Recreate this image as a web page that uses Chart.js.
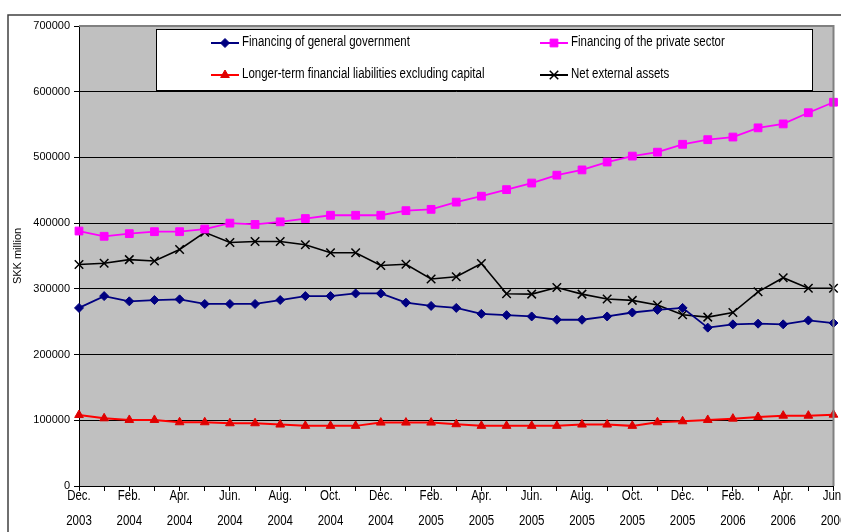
<!DOCTYPE html>
<html>
<head>
<meta charset="utf-8">
<script src="https://cdn.jsdelivr.net/npm/chart.js@4/dist/chart.umd.min.js"></script>
<style>
  html, body { margin: 0; padding: 0; background: #ffffff; }
  #wrap { position: relative; width: 841px; height: 532px; }
</style>
</head>
<body>
<div id="wrap"><canvas id="c" width="841" height="532"></canvas></div>
<script>
// Monthly observations, Dec. 2003 – Jun. 2006 (SKK million)
const categories = [
  "Dec. 2003", "Jan. 2004", "Feb. 2004", "Mar. 2004", "Apr. 2004", "May 2004", "Jun. 2004",
  "Jul. 2004", "Aug. 2004", "Sep. 2004", "Oct. 2004", "Nov. 2004", "Dec. 2004",
  "Jan. 2005", "Feb. 2005", "Mar. 2005", "Apr. 2005", "May 2005", "Jun. 2005",
  "Jul. 2005", "Aug. 2005", "Sep. 2005", "Oct. 2005", "Nov. 2005", "Dec. 2005",
  "Jan. 2006", "Feb. 2006", "Mar. 2006", "Apr. 2006", "May 2006", "Jun. 2006"
];

const generalGovernment = [
  271000, 289000, 281000, 283000, 284000, 277000, 277000, 277000, 283000, 289000,
  289000, 293000, 293000, 279000, 274000, 271000, 262000, 260000, 258000, 253000,
  253000, 258000, 264000, 268000, 271000, 241000, 246000, 247000, 246000, 252000, 248000
];

const privateSector = [
  388000, 380000, 384000, 387000, 387000, 391000, 400000, 398000, 402000, 407000,
  412000, 412000, 412000, 419000, 421000, 432000, 441000, 451000, 461000, 473000,
  481000, 493000, 502000, 508000, 520000, 527000, 531000, 545000, 551000, 568000, 584000
];

const longerTermLiabilities = [
  108000, 103000, 100500, 100500, 97000, 97000, 95500, 95500, 93500, 91500,
  91500, 91500, 96500, 96500, 96500, 94000, 91500, 91500, 91500, 91500,
  93500, 93500, 91500, 97000, 98500, 100500, 102500, 105000, 107000, 107000, 108500
];

const netExternalAssets = [
  337000, 339000, 344500, 342500, 360000, 386000, 370500, 372000, 372000, 367000,
  355000, 355000, 335500, 337500, 315000, 318500, 338500, 292500, 292000, 302000,
  292000, 284500, 282500, 275500, 260500, 257000, 264000, 295500, 317000, 301000, 301000
];

const yTicks = [0, 100000, 200000, 300000, 400000, 500000, 600000, 700000];

const seriesNames = [
  "Financing of general government",
  "Financing of the private sector",
  "Longer-term financial liabilities excluding capital",
  "Net external assets"
];

const REGULAR = '"Liberation Sans", Arial, sans-serif';
const NARROW_SCALE = 0.82; // horizontal squeeze giving a narrow face

// Text in a condensed style: a regular face squeezed horizontally
function narrowText(ctx, text, x, y, align, size) {
  ctx.save();
  ctx.translate(x, y);
  ctx.scale(NARROW_SCALE, 1);
  ctx.font = size + 'px ' + REGULAR;
  ctx.fillStyle = '#000000';
  ctx.textAlign = align;
  ctx.textBaseline = 'middle';
  ctx.fillText(text, 0, 0);
  ctx.restore();
}

// Grey plot background and outer frame
const framePlugin = {
  id: 'frame',
  beforeDraw(chart) {
    const { ctx, chartArea: a } = chart;
    ctx.save();
    ctx.fillStyle = '#c0c0c0';
    ctx.fillRect(a.left, a.top, a.right - a.left, a.bottom - a.top);
    ctx.strokeStyle = '#404040';
    ctx.lineWidth = 1.5;
    ctx.beginPath();
    ctx.moveTo(8, 540);
    ctx.lineTo(8, 15);
    ctx.lineTo(845, 15);
    ctx.stroke();
    ctx.restore();
  },
  afterDraw(chart) {
    const { ctx, chartArea: a } = chart;
    ctx.save();
    ctx.strokeStyle = '#808080';
    ctx.lineWidth = 2;
    ctx.beginPath();
    ctx.moveTo(a.left, a.top);
    ctx.lineTo(a.right, a.top);
    ctx.lineTo(a.right, a.bottom);
    ctx.stroke();
    ctx.restore();
  }
};

// Two-line month / year labels under every second category
const monthLabelsPlugin = {
  id: 'monthLabels',
  afterDraw(chart) {
    const { ctx } = chart;
    const xs = chart.scales.x;
    categories.forEach((c, i) => {
      if (i % 2 !== 0) return;
      const x = xs.getPixelForValue(i);
      const parts = c.split(' ');
      narrowText(ctx, parts[0], x, 496.5, 'center', 14);
      narrowText(ctx, parts[1], x, 521, 'center', 14);
    });
  }
};

function drawMarker(ctx, ds, x, y) {
  ctx.save();
  ctx.fillStyle = ds.pointBackgroundColor;
  ctx.strokeStyle = ds.pointBorderColor;
  ctx.lineWidth = ds.pointBorderWidth;
  const r = ds.pointRadius;
  ctx.beginPath();
  if (ds.pointStyle === 'rectRot') {
    ctx.moveTo(x, y - r); ctx.lineTo(x + r, y); ctx.lineTo(x, y + r); ctx.lineTo(x - r, y);
    ctx.closePath(); ctx.fill(); ctx.stroke();
  } else if (ds.pointStyle === 'rect') {
    const s = r * Math.SQRT1_2;
    ctx.rect(x - s, y - s, 2 * s, 2 * s); ctx.fill(); ctx.stroke();
  } else if (ds.pointStyle === 'triangle') {
    ctx.moveTo(x, y - r);
    ctx.lineTo(x + r * Math.sin(2 * Math.PI / 3), y - r * Math.cos(2 * Math.PI / 3));
    ctx.lineTo(x - r * Math.sin(2 * Math.PI / 3), y - r * Math.cos(2 * Math.PI / 3));
    ctx.closePath(); ctx.fill(); ctx.stroke();
  } else {
    const d = r * Math.SQRT1_2;
    ctx.moveTo(x - d, y - d); ctx.lineTo(x + d, y + d);
    ctx.moveTo(x + d, y - d); ctx.lineTo(x - d, y + d);
    ctx.stroke();
  }
  ctx.restore();
}

// Boxed legend in two columns
const legendBoxPlugin = {
  id: 'legendBox',
  afterDraw(chart) {
    const { ctx } = chart;
    ctx.save();
    ctx.fillStyle = '#ffffff';
    ctx.fillRect(156, 29, 656, 61);
    ctx.strokeStyle = '#000000';
    ctx.lineWidth = 1;
    ctx.strokeRect(156.5, 29.5, 656, 61);
    const slots = [
      { x: 211, y: 43 }, { x: 540, y: 43 },
      { x: 211, y: 75 }, { x: 540, y: 75 }
    ];
    chart.data.datasets.forEach((ds, i) => {
      const s = slots[i];
      ctx.strokeStyle = ds.borderColor;
      ctx.lineWidth = 2;
      ctx.beginPath();
      ctx.moveTo(s.x, s.y);
      ctx.lineTo(s.x + 28, s.y);
      ctx.stroke();
      drawMarker(ctx, ds, s.x + 14, s.y);
      narrowText(ctx, ds.label, s.x + 31, s.y - 1, 'left', 14);
    });
    ctx.restore();
  }
};

const data = {
  labels: categories,
  datasets: [
    {
      label: seriesNames[0], data: generalGovernment,
      borderColor: '#000080', backgroundColor: '#000080',
      pointStyle: 'rectRot', pointRadius: 4.5,
      pointBackgroundColor: '#000080', pointBorderColor: '#000080', pointBorderWidth: 1,
      borderWidth: 1.8
    },
    {
      label: seriesNames[1], data: privateSector,
      borderColor: '#ff00ff', backgroundColor: '#ff00ff',
      pointStyle: 'rect', pointRadius: 5.5,
      pointBackgroundColor: '#ff00ff', pointBorderColor: '#ff00ff', pointBorderWidth: 1,
      borderWidth: 1.8
    },
    {
      label: seriesNames[2], data: longerTermLiabilities,
      borderColor: '#ff0000', backgroundColor: '#ff0000',
      pointStyle: 'triangle', pointRadius: 5,
      pointBackgroundColor: '#e00000', pointBorderColor: '#e00000', pointBorderWidth: 1,
      borderWidth: 2
    },
    {
      label: seriesNames[3], data: netExternalAssets,
      borderColor: '#000000', backgroundColor: '#000000',
      pointStyle: 'crossRot', pointRadius: 6,
      pointBackgroundColor: '#000000', pointBorderColor: '#000000', pointBorderWidth: 1.5,
      borderWidth: 1.6
    }
  ]
};

new Chart(document.getElementById('c'), {
  type: 'line',
  data,
  plugins: [framePlugin, monthLabelsPlugin, legendBoxPlugin],
  options: {
    responsive: false,
    animation: false,
    events: [],
    layout: { padding: { top: 26, right: 3, left: 0, bottom: 0 } },
    elements: { line: { tension: 0 } },
    plugins: { legend: { display: false }, tooltip: { enabled: false } },
    scales: {
      x: {
        type: 'category',
        offset: false,
        border: { color: '#000000', width: 1 },
        grid: { drawOnChartArea: false, drawTicks: true, tickLength: 5, color: '#000000' },
        ticks: { display: false, autoSkip: false },
        afterFit(scale) { scale.height = 46; }
      },
      y: {
        min: 0, max: 700000,
        afterBuildTicks(scale) { scale.ticks = yTicks.map(v => ({ value: v })); },
        border: { color: '#000000', width: 1 },
        grid: { color: '#000000', lineWidth: 1, tickLength: 5, drawTicks: true },
        ticks: {
          padding: 4, color: '#000000',
          font: { family: REGULAR, size: 11 },
          callback(v) { return String(v); }
        },
        title: {
          display: true, text: 'SKK million', color: '#000000',
          font: { family: REGULAR, size: 11 },
          padding: { top: 11, bottom: 0 }
        },
        afterFit(scale) { scale.width = 79; }
      }
    }
  }
});
</script>
</body>
</html>
